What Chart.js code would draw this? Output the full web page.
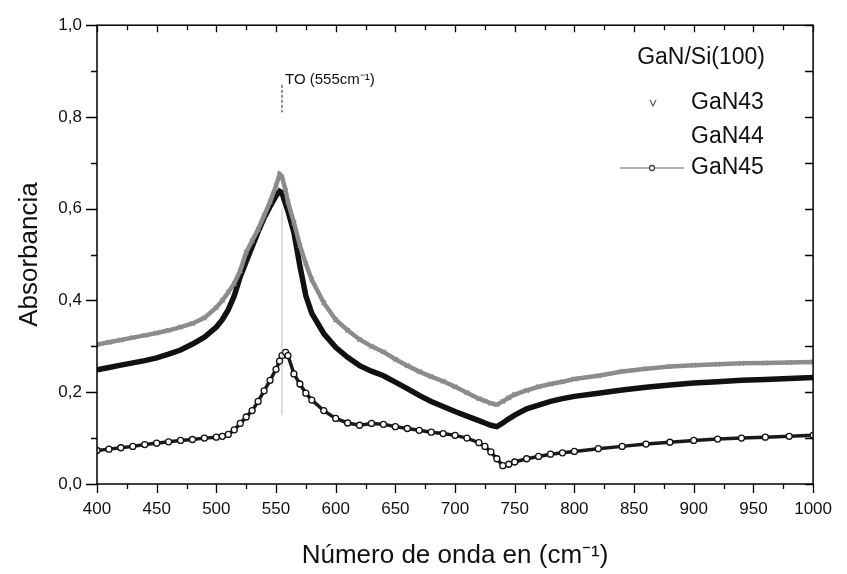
<!DOCTYPE html>
<html>
<head>
<meta charset="utf-8">
<script src="https://cdn.jsdelivr.net/npm/chart.js@4/dist/chart.umd.min.js"></script>
<style>
html,body{margin:0;padding:0;background:#fff;}
#wrap{width:847px;height:574px;position:relative;}
</style>
</head>
<body>
<div id="wrap"><canvas id="c" width="847" height="574"></canvas></div>
<script>
// ---- data ----
const wavenumbers = [400,410,420,430,440,450,460,470,480,490,500,505,510,515,520,525,530,535,540,545,550,553,555,558,560,565,570,575,580,590,600,610,620,630,640,650,660,670,680,690,700,710,720,725,730,735,740,745,750,760,770,780,790,800,820,840,860,880,900,920,940,960,980,1000];
const gan43 = [0.304,0.309,0.314,0.319,0.324,0.329,0.335,0.342,0.350,0.362,0.385,0.400,0.418,0.437,0.465,0.505,0.530,0.555,0.585,0.615,0.650,0.675,0.670,0.640,0.615,0.570,0.520,0.480,0.445,0.395,0.358,0.335,0.315,0.300,0.288,0.272,0.258,0.245,0.234,0.224,0.212,0.199,0.186,0.181,0.176,0.173,0.180,0.188,0.195,0.204,0.212,0.218,0.223,0.229,0.236,0.245,0.251,0.256,0.259,0.261,0.263,0.264,0.265,0.266];
const gan44 = [0.249,0.254,0.259,0.264,0.269,0.275,0.283,0.292,0.305,0.320,0.342,0.358,0.380,0.410,0.452,0.485,0.517,0.550,0.580,0.605,0.628,0.638,0.635,0.610,0.595,0.548,0.475,0.410,0.372,0.328,0.298,0.276,0.258,0.246,0.236,0.222,0.208,0.193,0.180,0.169,0.158,0.148,0.138,0.133,0.128,0.125,0.133,0.142,0.150,0.164,0.172,0.180,0.186,0.191,0.198,0.205,0.211,0.216,0.220,0.223,0.226,0.228,0.230,0.232];
const gan45 = [0.073,0.076,0.079,0.082,0.086,0.089,0.092,0.095,0.097,0.100,0.102,0.104,0.108,0.118,0.132,0.146,0.160,0.180,0.203,0.226,0.250,0.268,0.280,0.287,0.280,0.240,0.218,0.198,0.183,0.160,0.143,0.133,0.128,0.132,0.130,0.125,0.121,0.117,0.113,0.110,0.106,0.100,0.090,0.082,0.070,0.055,0.040,0.043,0.048,0.055,0.060,0.065,0.068,0.071,0.077,0.082,0.087,0.091,0.095,0.098,0.100,0.102,0.104,0.106];
const seriesLabels = ['GaN43','GaN44','GaN45'];
const xTicksMajor = 50, xTicksMinor = 25;
const yTicksMajor = 0.2, yTicksMinor = 0.1;
const legendTitle = 'GaN/Si(100)';
const peakLabel = 'TO (555cm\u207B\u00B9)';
const peakPosition = 555;
const xTitle = 'N\u00FAmero de onda en (cm\u207B\u00B9)';
const yTitle = 'Absorbancia';

const FONT = '"Liberation Sans", Arial, Helvetica, sans-serif';
const toXY = arr => wavenumbers.map((w,i)=>({x:w,y:arr[i]}));

const framePlugin = {
  id:'framePlugin',
  afterDatasetsDraw(chart){
    const {ctx, chartArea:a, scales:{x,y}} = chart;
    ctx.save();
    ctx.strokeStyle = '#000';
    ctx.lineWidth = 1.5;
    ctx.strokeRect(a.left, a.top, a.right-a.left, a.bottom-a.top);
    ctx.lineWidth = 1.3;
    ctx.beginPath();
    for (let v = x.min; v <= x.max + 1e-9; v += xTicksMinor) {
      const px = Math.round(x.getPixelForValue(v)) + 0.5;
      const major = Math.abs(v % xTicksMajor) < 1e-6;
      ctx.moveTo(px, a.bottom); ctx.lineTo(px, a.bottom + (major ? 9 : 5));
      ctx.moveTo(px, a.top); ctx.lineTo(px, a.top + (major ? 7 : 5));
    }
    for (let i = 0; i <= Math.round((y.max - y.min)/yTicksMinor); i++) {
      const v = y.min + i*yTicksMinor;
      const py = Math.round(y.getPixelForValue(v)) + 0.5;
      const major = i % 2 === 0;
      ctx.moveTo(a.left, py); ctx.lineTo(a.left - (major ? 11 : 6), py);
      ctx.moveTo(a.right, py); ctx.lineTo(a.right - 8, py);
    }
    ctx.stroke();

    // TO peak marker
    const px = x.getPixelForValue(peakPosition);
    ctx.setLineDash([3,2]);
    ctx.lineWidth = 1;
    ctx.strokeStyle = '#222';
    ctx.beginPath();
    ctx.moveTo(px, y.getPixelForValue(0.87));
    ctx.lineTo(px, y.getPixelForValue(0.81));
    ctx.stroke();
    ctx.setLineDash([]);
    ctx.strokeStyle = 'rgba(120,120,120,0.5)';
    ctx.beginPath();
    ctx.moveTo(px, y.getPixelForValue(0.60));
    ctx.lineTo(px, y.getPixelForValue(0.15));
    ctx.stroke();
    ctx.fillStyle = '#111';
    ctx.font = '15px ' + FONT;
    ctx.textAlign = 'left';
    ctx.textBaseline = 'middle';
    ctx.fillText(peakLabel, px + 3, y.getPixelForValue(0.88));

    // legend
    ctx.font = '23px ' + FONT;
    ctx.textAlign = 'right';
    ctx.fillText(legendTitle, 765, 58);
    const rows = [103, 137, 168];
    const ds = chart.data.datasets;
    ctx.textAlign = 'left';
    for (let i = 0; i < ds.length; i++) {
      ctx.fillStyle = '#111';
      ctx.fillText(ds[i].label, 691, rows[i]);
    }
    // symbols
    ctx.strokeStyle = '#555'; ctx.lineWidth = 1.2;
    ctx.beginPath(); ctx.moveTo(650, rows[0]-3); ctx.lineTo(653, rows[0]+3); ctx.lineTo(656, rows[0]-3); ctx.stroke();
    ctx.strokeStyle = '#999'; ctx.lineWidth = 1.3;
    ctx.beginPath(); ctx.moveTo(620, rows[2]); ctx.lineTo(684, rows[2]); ctx.stroke();
    ctx.fillStyle = '#fff'; ctx.strokeStyle = '#444';
    ctx.beginPath(); ctx.arc(652, rows[2], 2.5, 0, Math.PI*2); ctx.fill(); ctx.stroke();
    ctx.restore();
  }
};

new Chart(document.getElementById('c'), {
  type: 'line',
  data: {
    datasets: [
      { label: seriesLabels[0], data: toXY(gan43), borderColor: '#8c8c8c', borderWidth: 4.5,
        pointStyle: 'crossRot', pointRadius: 3.2, pointBorderColor: '#8c8c8c', pointBorderWidth: 1.3, order: 1 },
      { label: seriesLabels[1], data: toXY(gan44), borderColor: '#111', borderWidth: 5.5,
        pointRadius: 0, order: 2 },
      { label: seriesLabels[2], data: toXY(gan45), borderColor: '#1a1a1a', borderWidth: 3.5,
        pointStyle: 'circle', pointRadius: 3, pointBackgroundColor: '#fff', pointBorderColor: '#111', pointBorderWidth: 1.3, order: 3 }
    ]
  },
  options: {
    responsive: false,
    animation: false,
    layout: { padding: { left: 0, right: 26, top: 19, bottom: 0 } },
    plugins: { legend: { display: false }, tooltip: { enabled: false } },
    elements: { line: { tension: 0 } },
    scales: {
      x: {
        type: 'linear', min: 400, max: 1000,
        afterFit: s => { s.height = 90; },
        grid: { display: false, drawTicks: false },
        border: { display: false },
        ticks: { stepSize: xTicksMajor, padding: 15, color: '#111', font: { family: FONT, size: 17 }, maxRotation: 0,
          callback: v => String(v) },
        title: { display: true, text: xTitle, color: '#111', font: { family: FONT, size: 26 }, padding: { top: 0, bottom: 3 } }
      },
      y: {
        min: 0, max: 1,
        afterFit: s => { s.width = 97; },
        grid: { display: false, drawTicks: false },
        border: { display: false },
        ticks: { stepSize: yTicksMajor, padding: 15, color: '#111', font: { family: FONT, size: 17 },
          callback: v => Number(v).toFixed(1).replace('.', ',') },
        title: { display: true, text: yTitle, color: '#111', font: { family: FONT, size: 26 }, padding: { top: 14, bottom: 0 } }
      }
    }
  },
  plugins: [framePlugin]
});
</script>
</body>
</html>
